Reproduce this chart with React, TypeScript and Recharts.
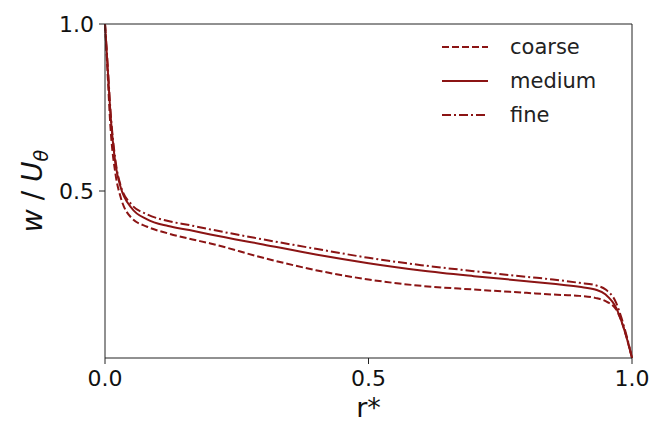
import { Line, LineChart, ReferenceLine, XAxis, YAxis } from "recharts";

const rStar = [0, 0.005, 0.01, 0.02, 0.03, 0.05, 0.08, 0.12, 0.16, 0.2, 0.3, 0.4, 0.5, 0.6, 0.7, 0.8, 0.85, 0.9, 0.93, 0.95, 0.97, 0.98, 0.99, 1.0];
const coarse = [1.0, 0.85, 0.7, 0.55, 0.48, 0.42, 0.393, 0.373, 0.357, 0.343, 0.3, 0.263, 0.235, 0.216, 0.205, 0.195, 0.19, 0.186, 0.18, 0.17, 0.145, 0.11, 0.06, 0.0];
const medium = [1.0, 0.87, 0.74, 0.58, 0.51, 0.45, 0.415, 0.395, 0.383, 0.37, 0.34, 0.31, 0.284, 0.262, 0.245, 0.23, 0.222, 0.213, 0.205, 0.19, 0.15, 0.11, 0.06, 0.0];
const fine = [1.0, 0.88, 0.75, 0.59, 0.515, 0.46, 0.43, 0.41, 0.398, 0.385, 0.355, 0.327, 0.3, 0.278, 0.26, 0.243, 0.235, 0.225, 0.218, 0.205, 0.165, 0.12, 0.065, 0.0];

const xTicks = [0, 0.5, 1.0];
const yTicks = [0.5, 1.0];

const color = "#8b1414";
const font = "'DejaVu Sans', sans-serif";

const series = [
  { key: "coarse", name: "coarse", dash: "7 3" },
  { key: "medium", name: "medium", dash: undefined },
  { key: "fine", name: "fine", dash: "9 3 2 3" },
];

const data = rStar.map((r, i) => ({ r, coarse: coarse[i], medium: medium[i], fine: fine[i] }));

function LegendBox() {
  return (
    <div style={{ position: "absolute", top: 30, left: 440, fontFamily: font, fontSize: 21, color: "#222" }}>
      {series.map((s) => (
        <div key={s.key} style={{ display: "flex", alignItems: "center", height: 34 }}>
          <svg width={50} height={10} style={{ marginRight: 20 }}>
            <line x1={2} y1={5} x2={48} y2={5} stroke={color} strokeWidth={2} strokeDasharray={s.dash} />
          </svg>
          <span>{s.name}</span>
        </div>
      ))}
    </div>
  );
}

function YLabel() {
  return (
    <text transform="translate(42 191) rotate(-90)" textAnchor="middle" fontFamily={font} fontSize={28} fill="#111">
      <tspan fontStyle="italic">w</tspan>
      <tspan> / </tspan>
      <tspan fontStyle="italic">U</tspan>
      <tspan fontStyle="italic" fontSize={19} dy={6}>θ</tspan>
    </text>
  );
}

export default function App() {
  return (
    <div style={{ position: "relative", width: 666, height: 425, background: "#fff" }}>
      <style>{"body{margin:0}"}</style>
      <LineChart width={666} height={425} data={data} margin={{ top: 24, right: 34, bottom: 0, left: 0 }}>
        <XAxis
          dataKey="r"
          type="number"
          domain={[0, 1]}
          ticks={xTicks}
          tickFormatter={(v: number) => v.toFixed(1)}
          stroke="#222"
          tickSize={6}
          height={67}
          tick={{ fontFamily: font, fontSize: 22, fill: "#111" }}
          tickMargin={6}
          label={{ value: "r*", position: "insideBottom", offset: 8, fontFamily: font, fontSize: 27, fill: "#111" }}
        />
        <YAxis
          type="number"
          domain={[0, 1]}
          ticks={yTicks}
          tickFormatter={(v: number) => v.toFixed(1)}
          stroke="#222"
          tickSize={6}
          width={105}
          tick={{ fontFamily: font, fontSize: 22, fill: "#111" }}
          tickMargin={5}
          label={<YLabel />}
        />
        <ReferenceLine y={1} stroke="#222" />
        <ReferenceLine x={1} stroke="#222" />
        {series.map((s) => (
          <Line
            key={s.key}
            type="monotone"
            dataKey={s.key}
            name={s.name}
            stroke={color}
            strokeWidth={2}
            strokeDasharray={s.dash}
            dot={false}
            isAnimationActive={false}
          />
        ))}
      </LineChart>
      <LegendBox />
    </div>
  );
}
